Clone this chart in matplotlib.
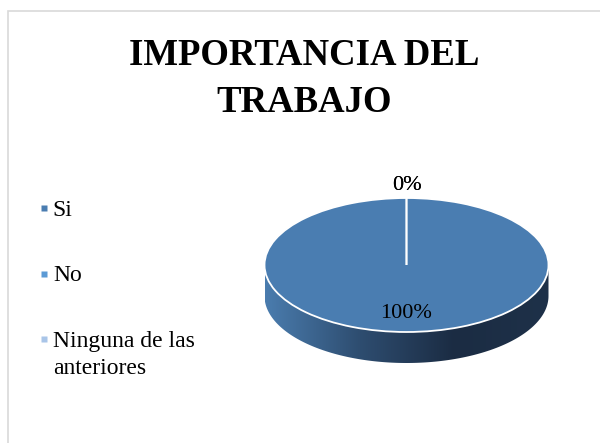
import matplotlib
matplotlib.use('Agg')
import matplotlib.pyplot as plt
import numpy as np
from matplotlib.lines import Line2D
from matplotlib.patches import Polygon, Rectangle
from matplotlib.colors import LinearSegmentedColormap

plt.rcParams['font.family'] = ['Liberation Serif', 'DejaVu Serif']

title = 'IMPORTANCIA DEL\nTRABAJO'
categories = ['Si', 'No', 'Ninguna de las\nanteriores']
values = [100, 0, 0]
colors = ['#4a7db1', '#5b9ad5', '#a9c5e8']

W, H = 600, 443
fig = plt.figure(figsize=(W / 100, H / 100), dpi=100)

# chart area border (runs off right/bottom edge)
fig.patches.append(Rectangle((7.5 / W, -0.1), 1.1, 1 - 11.5 / H + 0.1,
                             transform=fig.transFigure, fill=False,
                             edgecolor='#d9d9d9', linewidth=1.2))

fig.text(304 / W, 1 - 79 / H, title, ha='center', va='center',
         fontsize=26.5, fontweight='bold', linespacing=1.42)

# pie axes: unit circle maps to the ellipse (rx=142px, ry=67px)
cx, cy, rx, ry = 406.5, 265, 142, 67
depth = 31 / ry
ax = fig.add_axes([(cx - rx) / W, 1 - (cy + ry + 31) / H, 2 * rx / W, (2 * ry + 31) / H])
ax.set_axis_off()

# side of the 3D disc with a left-to-right gradient
t = np.linspace(np.pi, 2 * np.pi, 200)
pts = np.vstack([np.c_[np.cos(t), np.sin(t)],
                 np.c_[np.cos(t[::-1]), np.sin(t[::-1]) - depth]])
side = Polygon(pts, closed=True, facecolor='none', edgecolor='none')
ax.add_patch(side)
cmap = LinearSegmentedColormap.from_list('side', ['#4a7cae', '#2e4d70', '#1b2c43', '#1e3149'])
grad = np.linspace(0, 1, 256).reshape(1, -1)
im = ax.imshow(grad, cmap=cmap, extent=[-1, 1, -1 - depth, 0], aspect='auto', zorder=0)
im.set_clip_path(side)

pct = [f'{v / sum(values) * 100:.0f}%' for v in values]
wedges, labels, autotexts = ax.pie(
    values, colors=colors, startangle=90, counterclock=False,
    labels=[p if v == 0 else '' for p, v in zip(pct, values)], labeldistance=1.18,
    autopct=lambda p: f'{p:.0f}%' if p > 0 else '', pctdistance=0.73,
    wedgeprops=dict(edgecolor='white', linewidth=1.3),
    textprops=dict(fontsize=16, color='black'))
for txt in labels:
    txt.set_ha('center')
    txt.set_va('center')
ax.set_xlim(-1, 1)
ax.set_ylim(-1 - depth, 1)
ax.set_aspect('auto')

handles = [Line2D([], [], linestyle='none', marker='s', markersize=4.5,
                  markerfacecolor=c, markeredgecolor='none') for c in colors]
leg = fig.legend(handles, categories, loc='upper left',
                 bbox_to_anchor=(38 / W, 1 - 199.5 / H), frameon=False,
                 fontsize=17, handlelength=0.5, handletextpad=0.13,
                 labelspacing=1.9, borderpad=0, borderaxespad=0)
for txt in leg.get_texts():
    txt.set_linespacing(1.38)
for hp in leg._legend_handle_box.get_children()[0].get_children():
    hp.align = 'top'

fig.savefig('out.png', dpi=100)
